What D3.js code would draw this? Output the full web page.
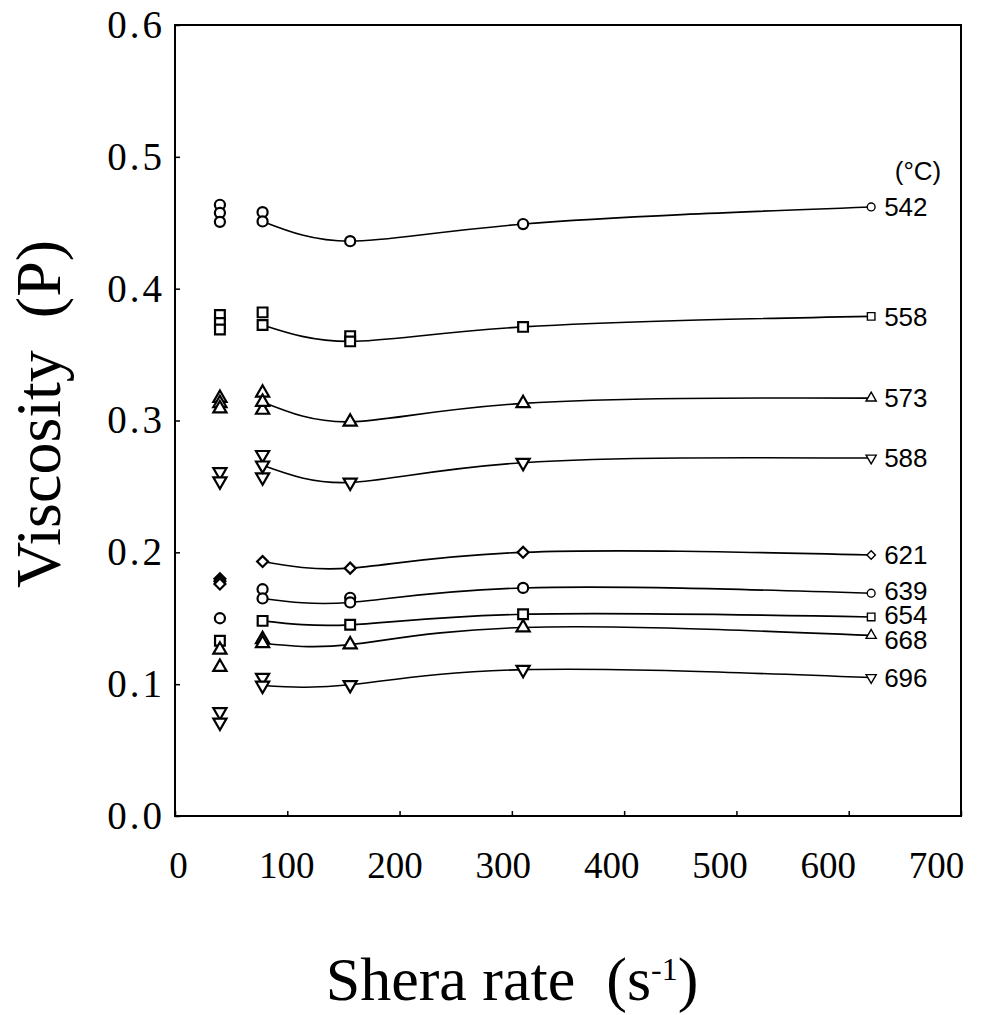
<!DOCTYPE html>
<html>
<head>
<meta charset="utf-8">
<script src="https://cdn.jsdelivr.net/npm/d3@7"></script>
<style>
  html, body { margin: 0; padding: 0; background: #fff; }
  svg { display: block; }
</style>
</head>
<body>
<div id="chart"></div>
<script>
// ---------------- DATA ----------------
const xTicks = [0, 100, 200, 300, 400, 500, 600, 700];
const yTicks = [0.0, 0.1, 0.2, 0.3, 0.4, 0.5, 0.6];
const temps = ["542", "558", "573", "588", "621", "639", "654", "668", "696"];
const symbolNames = ["circle", "square", "triangle", "triangleDown", "diamond", "circle", "square", "triangle", "triangleDown"];

// shear rates for the fitted curves
const lineRates = [78, 156, 310, 620];
const line542 = [0.451, 0.436, 0.449, 0.462];
const line558 = [0.3725, 0.360, 0.371, 0.379];
const line573 = [0.314, 0.299, 0.313, 0.317];
const line588 = [0.266, 0.253, 0.268, 0.2715];
const line621 = [0.193, 0.188, 0.200, 0.198];
const line639 = [0.165, 0.162, 0.173, 0.169];
const line654 = [0.148, 0.145, 0.153, 0.151];
const line668 = [0.131, 0.130, 0.143, 0.137];
const line696 = [0.099, 0.0995, 0.111, 0.105];

// replicate (scatter-only) points: [shear rate, viscosity]
const rep542 = [[40, 0.4636], [40, 0.4575], [40, 0.4507], [78, 0.458]];
const rep558 = [[40, 0.380], [40, 0.374], [40, 0.369], [78, 0.382], [156, 0.364]];
const rep573 = [[40, 0.317], [40, 0.313], [40, 0.309], [78, 0.321], [78, 0.308]];
const rep588 = [[40, 0.261], [40, 0.254], [78, 0.274], [78, 0.257]];
const rep621 = [[40, 0.180], [40, 0.178], [40, 0.176]];
const rep639 = [[40, 0.150], [78, 0.172], [156, 0.1655]];
const rep654 = [[40, 0.133]];
const rep668 = [[40, 0.126], [40, 0.113], [78, 0.134]];
const rep696 = [[40, 0.079], [40, 0.071], [78, 0.105]];

const lineValues = [line542, line558, line573, line588, line621, line639, line654, line668, line696];
const repValues = [rep542, rep558, rep573, rep588, rep621, rep639, rep654, rep668, rep696];

// ---------------- CHART ----------------
const W = 997, H = 1015;
const svg = d3.select("#chart").append("svg").attr("width", W).attr("height", H);

const x = d3.scaleLinear().domain([0, 700]).range([175, 961]);
const xLabelPos = d3.scaleLinear().domain([0, 700]).range([178, 936]);
const y = d3.scaleLinear().domain([0, 0.6]).range([816, 25]);

const serif = "'Liberation Serif', 'Times New Roman', serif";
const sans = "'Liberation Sans', Arial, sans-serif";

// frame
svg.append("rect")
  .attr("x", x(0)).attr("y", y(0.6))
  .attr("width", x(700) - x(0)).attr("height", y(0) - y(0.6))
  .attr("fill", "none").attr("stroke", "#000").attr("stroke-width", 2);

// x axis
const gx = svg.append("g").attr("transform", `translate(0,${y(0)})`)
  .call(d3.axisBottom(x).tickValues(xTicks).tickSize(-5).tickPadding(36).tickFormat(d3.format("d")));
gx.select(".domain").remove();
gx.selectAll(".tick line").attr("stroke", "#000").attr("stroke-width", 1.5);
gx.selectAll(".tick text")
  .attr("x", d => xLabelPos(d) - x(d))
  .attr("fill", "#000")
  .style("font-family", serif).style("font-size", "37px");

// y axis
const gy = svg.append("g").attr("transform", `translate(${x(0)},0)`)
  .call(d3.axisLeft(y).tickValues(yTicks).tickSize(-5).tickPadding(10).tickFormat(d3.format(".1f")));
gy.select(".domain").remove();
gy.selectAll(".tick line").attr("stroke", "#000").attr("stroke-width", 1.5);
gy.selectAll(".tick text")
  .attr("fill", "#000")
  .style("font-family", serif).style("font-size", "39px").style("letter-spacing", "3px");

// axis titles
svg.append("text")
  .attr("transform", `translate(60,414) rotate(-90)`)
  .attr("text-anchor", "middle")
  .style("font-family", serif).style("font-size", "64px").style("white-space", "pre")
  .text("Viscosity  (P)");

const xt = svg.append("text")
  .attr("x", 512).attr("y", 1000)
  .attr("text-anchor", "middle")
  .style("font-family", serif).style("font-size", "62px").style("white-space", "pre");
xt.append("tspan").text("Shera rate  (s");
xt.append("tspan").attr("dy", -20).style("font-size", "32px").text("-1");
xt.append("tspan").attr("dy", 20).text(")");

// symbol helper
function symPath(name, size) {
  switch (name) {
    case "circle": return d3.symbol(d3.symbolCircle, size)();
    case "square": return d3.symbol(d3.symbolSquare, size)();
    case "triangle": return d3.symbol(d3.symbolTriangle, size)();
    case "triangleDown": return d3.symbol(d3.symbolTriangle, size)();
    case "diamond": return d3.symbol(d3.symbolSquare, size)();
  }
}
function symRot(name) {
  if (name === "triangleDown") return 180;
  if (name === "diamond") return 45;
  return 0;
}
const baseSize = { circle: 80, square: 95, triangle: 75, triangleDown: 75, diamond: 60 };
// vertical nudges of the crowded end labels (px)
const labelNudge = [0, 0, 0, 0, 0, -3, -2, 4, 0];

const line = d3.line().x(d => x(d[0])).y(d => y(d[1])).curve(d3.curveNatural);

temps.forEach((t, i) => {
  const name = symbolNames[i];
  const pts = lineRates.map((r, j) => [r, lineValues[i][j]]);
  const g = svg.append("g");
  g.append("path").attr("d", line(pts))
    .attr("fill", "none").attr("stroke", "#000").attr("stroke-width", 1.6);

  // replicate points
  g.selectAll(".rep").data(repValues[i]).join("path")
    .attr("d", symPath(name, baseSize[name]))
    .attr("transform", d => `translate(${x(d[0])},${y(d[1])}) rotate(${symRot(name)})`)
    .attr("fill", "#fff").attr("stroke", "#000").attr("stroke-width", 2.2);

  // curve points
  g.selectAll(".pt").data(pts).join("path")
    .attr("d", (d, j) => symPath(name, j === 3 ? baseSize[name] * 0.6 : baseSize[name]))
    .attr("transform", d => `translate(${x(d[0])},${y(d[1])}) rotate(${symRot(name)})`)
    .attr("fill", "#fff").attr("stroke", "#000")
    .attr("stroke-width", (d, j) => j === 3 ? 1.4 : 2.2);

  // series label
  const last = pts[pts.length - 1];
  g.append("text")
    .attr("x", x(last[0]) + 13).attr("y", y(last[1]) + labelNudge[i])
    .attr("dy", "0.36em")
    .style("font-family", sans).style("font-size", "26px")
    .text(t);
});

// unit label
svg.append("text")
  .attr("x", 918).attr("y", 180)
  .attr("text-anchor", "middle")
  .style("font-family", sans).style("font-size", "26px").style("white-space", "pre")
  .text("(°C)");
</script>
</body>
</html>
